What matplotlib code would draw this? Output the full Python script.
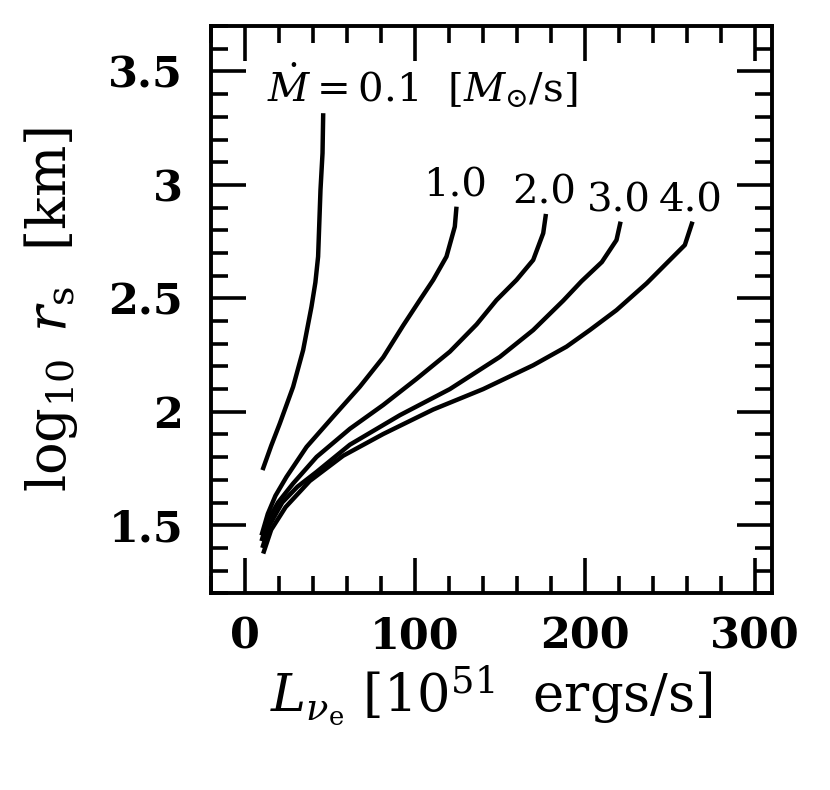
import matplotlib
matplotlib.use("Agg")
import matplotlib.pyplot as plt
from matplotlib.ticker import MultipleLocator

plt.rcParams["font.family"] = "DejaVu Serif"
plt.rcParams["mathtext.fontset"] = "dejavuserif"

# shock radius vs neutrino luminosity, one curve per accretion rate
mdot_labels = ["1.0", "2.0", "3.0", "4.0"]

x_01 = [10.4, 15.5, 20.6, 28.4, 34.3, 39.2, 41.5, 43.1, 44.5, 45.7, 46.1]
y_01 = [1.743, 1.85, 1.949, 2.11, 2.272, 2.463, 2.57, 2.684, 2.978, 3.14, 3.316]

x_10 = [9.8, 13.5, 18.0, 24.5, 36.3, 51.9, 67.6, 81.4, 93.1, 102.9, 110.8, 118.6, 123.5, 124.5]
y_10 = [1.455, 1.55, 1.63, 1.713, 1.845, 1.978, 2.11, 2.24, 2.38, 2.492, 2.581, 2.684, 2.816, 2.904]

x_20 = [9.8, 13.5, 19.5, 28.4, 42.2, 61.8, 81.4, 101.0, 120.6, 136.3, 148.0, 159.8, 169.6, 175.5, 177.1]
y_20 = [1.43, 1.52, 1.60, 1.684, 1.801, 1.925, 2.03, 2.145, 2.265, 2.385, 2.492, 2.581, 2.669, 2.787, 2.872]

x_30 = [10.3, 14.5, 22.0, 31.0, 42.2, 61.8, 91.2, 120.6, 150.0, 169.6, 187.3, 198.0, 210.0, 218.6, 221.0]
y_30 = [1.40, 1.50, 1.60, 1.67, 1.735, 1.855, 1.985, 2.10, 2.242, 2.36, 2.49, 2.575, 2.66, 2.757, 2.838]

x_40 = [10.8, 15.5, 24.0, 38.2, 57.8, 81.4, 110.8, 140.2, 169.6, 189.2, 202.9, 218.6, 236.3, 248.0, 258.8, 263.3]
y_40 = [1.375, 1.48, 1.58, 1.695, 1.806, 1.902, 2.01, 2.10, 2.205, 2.287, 2.36, 2.448, 2.566, 2.654, 2.735, 2.838]

fig = plt.figure(figsize=(8.3, 7.9), dpi=100)
ax = fig.add_axes([0.254, 0.249, 0.676, 0.718])

for xs, ys in [(x_01, y_01), (x_10, y_10), (x_20, y_20), (x_30, y_30), (x_40, y_40)]:
    ax.plot(xs, ys, color="black", linewidth=3.2, solid_capstyle="butt", solid_joinstyle="round")

ax.text(12.9, 3.367, r"$\dot{M}=0.1$  $[M_{\odot}/\mathrm{s}]$", fontsize=29, ha="left", va="baseline")
for lab, (xs, ys) in zip(mdot_labels, [(x_10, y_10), (x_20, y_20), (x_30, y_30), (x_40, y_40)]):
    ax.text(xs[-1] - 1, ys[-1] + 0.045, lab, fontsize=29, ha="center", va="baseline")

ax.set_xlim(-20, 310)
ax.set_ylim(1.2, 3.7)
ax.xaxis.set_minor_locator(MultipleLocator(20))
ax.yaxis.set_minor_locator(MultipleLocator(0.1))
ax.set_xticks([0, 100, 200, 300])
ax.set_xticklabels(["0", "100", "200", "300"])
ax.set_yticks([1.5, 2, 2.5, 3, 3.5])
ax.set_yticklabels(["1.5", "2", "2.5", "3", "3.5"])

ax.tick_params(which="both", direction="in", top=True, right=True, width=2.6, color="black")
ax.tick_params(which="major", length=25, labelsize=31)
ax.tick_params(axis="x", which="major", pad=16)
ax.tick_params(axis="y", which="major", pad=20)
ax.tick_params(which="minor", length=12.5)
for lbl in ax.get_xticklabels() + ax.get_yticklabels():
    lbl.set_fontweight("bold")
for sp in ax.spines.values():
    sp.set_linewidth(2.8)

ax.set_xlabel(r"$L_{\nu_{\rm e}}$ [10$^{51}$  ergs/s]", fontsize=38, labelpad=4)
ax.set_ylabel(r"$\log_{10}\ r_{\rm s}$  [km]", fontsize=39, labelpad=20)

fig.savefig("out.png", dpi=100)
